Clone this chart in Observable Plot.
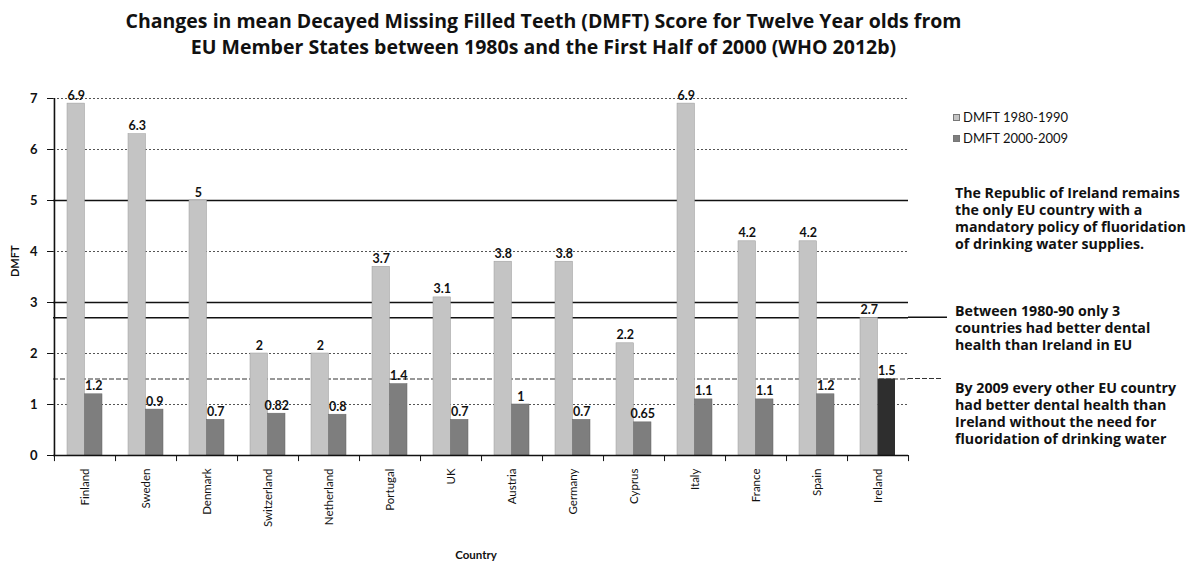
<!DOCTYPE html>
<html>
<head>
<meta charset="utf-8">
<script src="https://cdn.jsdelivr.net/npm/d3@7"></script>
<script src="https://cdn.jsdelivr.net/npm/@observablehq/plot@0.6"></script>
<style>
  html, body { margin: 0; padding: 0; background: #fff; }
  #wrap { position: relative; width: 1187px; height: 566px; font-family: Lato, "Open Sans", sans-serif; color: #111; overflow: hidden; }
  #title { height: 62px; text-align: center; font-family: "Open Sans", Lato, sans-serif; font-weight: 700; font-size: 19.5px; line-height: 26px; padding-top: 8px; box-sizing: border-box; width: 1087px; white-space: nowrap; }
  .note { position: absolute; left: 955px; font-family: "Open Sans", Lato, sans-serif; font-weight: 700; font-size: 14.2px; line-height: 17px; white-space: nowrap; }
  .leg { position: absolute; left: 953px; font-size: 13px; line-height: 14px; display: flex; align-items: center; }
  .sw { width: 7px; height: 7px; margin-right: 3px; border: 1px solid #777; box-sizing: border-box; }
</style>
</head>
<body>
<div id="wrap">
  <div id="title">Changes in mean Decayed Missing Filled Teeth (DMFT) Score for Twelve Year olds from<br>EU Member States between 1980s and the First Half of 2000 (WHO 2012b)</div>
  <div id="chart"></div>
  <div class="leg" style="top:110px"><span class="sw" style="background:#c4c4c4"></span>DMFT 1980-1990</div>
  <div class="leg" style="top:131px"><span class="sw" style="background:#7e7e7e"></span>DMFT 2000-2009</div>
  <div class="note" style="top:184px">The Republic of Ireland remains<br>the only EU country with a<br>mandatory policy of fluoridation<br>of drinking water supplies.</div>
  <div class="note" style="top:302px">Between 1980-90 only 3<br>countries had better dental<br>health than Ireland in EU</div>
  <div class="note" style="top:379px">By 2009 every other EU country<br>had better dental health than<br>Ireland without the need for<br>fluoridation of drinking water</div>
</div>
<script>
const countries = ["Finland","Sweden","Denmark","Switzerland","Netherland","Portugal","UK","Austria","Germany","Cyprus","Italy","France","Spain","Ireland"];
const dmft1980 = [6.9, 6.3, 5, 2, 2, 3.7, 3.1, 3.8, 3.8, 2.2, 6.9, 4.2, 4.2, 2.7];
const dmft2000 = [1.2, 0.9, 0.7, 0.82, 0.8, 1.4, 0.7, 1, 0.7, 0.65, 1.1, 1.1, 1.2, 1.5];
const yTicks = [0, 1, 2, 3, 4, 5, 6, 7];
const dottedGrid = [1, 2, 4, 6, 7];
const solidGrid = [3, 5];
const irelandLines = [2.7];
const irelandLines2000 = [1.5];

const data = countries.map((c, i) => ({country: c, v1980: dmft1980[i], v2000: dmft2000[i]}));

const W = 1187, H = 504, ML = 53, MR = 279, MT = 36, MB = 111;
const step = (W - ML - MR) / countries.length;
const half = 17.5;
const pInner = 1 - (2 * half) / step;

const chart = Plot.plot({
  width: W, height: H,
  marginLeft: ML, marginRight: MR, marginTop: MT, marginBottom: MB,
  style: {fontFamily: "Lato, 'Open Sans', sans-serif", color: "#111", background: "transparent"},
  x: {domain: countries, paddingInner: pInner, paddingOuter: pInner / 2, axis: null},
  y: {domain: [0, 7], axis: null},
  marks: [
    Plot.ruleY(dottedGrid, {stroke: "#555", strokeDasharray: "2,2", strokeWidth: 1}),
    Plot.ruleY(solidGrid, {stroke: "#111", strokeWidth: 1.6}),
    Plot.ruleY(irelandLines, {stroke: "#111", strokeWidth: 1.6}),
    Plot.ruleY(irelandLines2000, {stroke: "#333", strokeDasharray: "5,2", strokeWidth: 1.2}),
    Plot.barY(data, {x: "country", y: "v1980", insetRight: half, fill: "#c4c4c4", stroke: "#9a9a9a", strokeWidth: 0.5}),
    Plot.barY(data.filter(d => d.country !== "Ireland"), {x: "country", y: "v2000", insetLeft: half, fill: "#7e7e7e", stroke: "#666", strokeWidth: 0.5}),
    Plot.barY(data.filter(d => d.country === "Ireland"), {x: "country", y: "v2000", insetLeft: half, fill: "#2e2e2e"}),
    Plot.text(data, {x: "country", y: "v1980", text: d => String(d.v1980), dx: -half / 2, dy: -8, fontSize: 12.5, fontWeight: "bold", fill: "#111"}),
    Plot.text(data, {x: "country", y: "v2000", text: d => String(d.v2000), dx: half / 2, dy: -8, fontSize: 12.5, fontWeight: "bold", fill: "#111"}),
    Plot.ruleY([0], {stroke: "#111", strokeWidth: 1.6}),
    Plot.ruleX([countries[0]], {x: d => d, dx: -step / 2, y1: 0, y2: 7, stroke: "#111", strokeWidth: 1.6}),
    Plot.ruleX(countries, {x: d => d, dx: step / 2, y1: 0, y2: -0.12, stroke: "#111"}),
    Plot.ruleX([countries[0]], {x: d => d, dx: -step / 2, y1: 0, y2: -0.12, stroke: "#111"}),
    Plot.axisY(yTicks, {tickSize: 6, tickPadding: 10, fontSize: 13, fontWeight: "bold", label: null, tickFormat: d => String(d)}),
    Plot.axisX({tickRotate: -90, tickSize: 0, tickPadding: 13, fontSize: 11.5, label: null}),
    Plot.text(["DMFT"], {frameAnchor: "left", dx: -38, rotate: -90, fontSize: 11, fontWeight: "bold", fill: "#111"}),
    Plot.text(["Country"], {frameAnchor: "bottom", dy: 103, dx: -5, fontSize: 11.5, fontWeight: "bold", fill: "#111"})
  ]
});

document.getElementById("chart").appendChild(chart);

// extend Ireland reference lines past the plot frame using the y scale
const ys = chart.scale("y");
const svg = d3.select(chart);
const xEnd = W - MR;
svg.append("line").attr("x1", xEnd).attr("x2", 947)
  .attr("y1", ys.apply(irelandLines[0])).attr("y2", ys.apply(irelandLines[0]))
  .attr("stroke", "#111").attr("stroke-width", 1.6);
svg.append("line").attr("x1", xEnd).attr("x2", 942)
  .attr("y1", ys.apply(irelandLines2000[0])).attr("y2", ys.apply(irelandLines2000[0]))
  .attr("stroke", "#333").attr("stroke-width", 1.2).attr("stroke-dasharray", "5,2");
</script>
</body>
</html>
